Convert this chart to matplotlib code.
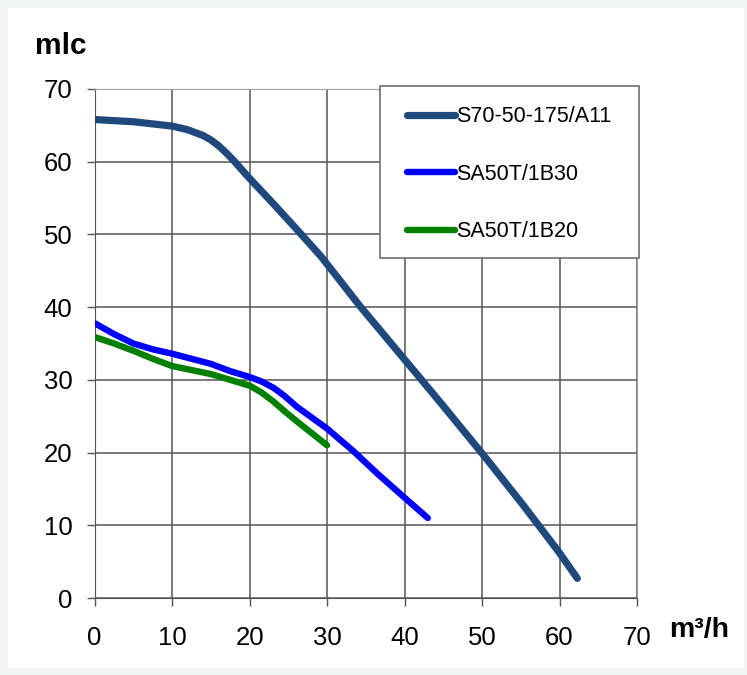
import matplotlib.pyplot as plt
from matplotlib.patches import Rectangle

plt.rcParams["font.family"] = ["Liberation Sans", "DejaVu Sans"]

# pump curves (flow m3/h, head mlc)
s70_q = [0, 5, 10, 12, 14, 15, 16, 17, 18, 20, 23, 26, 29.2, 32, 34.2, 40, 42.2, 45, 50, 55, 57.3, 60, 62.3]
s70_h = [65.8, 65.5, 64.9, 64.4, 63.6, 63.0, 62.2, 61.2, 60.1, 57.7, 54.3, 50.8, 47.0, 43.2, 40.2, 32.8, 30.0, 26.4, 19.9, 13.2, 10.0, 6.2, 2.7]

b30_q = [0, 2.5, 5, 7.5, 10, 15, 17.5, 20, 21.5, 23.1, 24.5, 26.1, 30, 33.4, 36.5, 40, 43]
b30_h = [37.8, 36.3, 35.0, 34.2, 33.6, 32.2, 31.2, 30.4, 29.8, 28.9, 27.8, 26.3, 23.3, 20.2, 17.1, 13.8, 11.0]

b20_q = [0, 2.5, 5, 7.5, 10, 15, 17.5, 20, 21.5, 23.1, 24.5, 26.1, 30]
b20_h = [35.9, 35.0, 34.0, 32.9, 31.9, 30.8, 30.0, 29.2, 28.3, 27.0, 25.7, 24.3, 21.0]

labels = ["S70-50-175/A11", "SA50T/1B30", "SA50T/1B20"]
colors = ["#1f497d", "#0000ff", "#008000"]
ticks = [0, 10, 20, 30, 40, 50, 60, 70]

fig = plt.figure(figsize=(7.47, 6.75), dpi=100, facecolor="#f3f5f5")
fig.patches.append(Rectangle((8 / 747, 7 / 675), 736 / 747, 660 / 675,
                             transform=fig.transFigure, facecolor="white",
                             edgecolor="none", zorder=-10))

ax = fig.add_axes([94.6 / 747, 1 - 598 / 675, 542.4 / 747, 509 / 675])
ax.set_facecolor("white")
ax.set_zorder(2)

series = [(s70_q, s70_h, 5.2), (b30_q, b30_h, 4.6), (b20_q, b20_h, 4.6)]
for (q, h, lw), lab, col in zip(series, labels, colors):
    ax.plot(q, h, color=col, lw=lw, label=lab, solid_capstyle="round",
            solid_joinstyle="round", zorder=3)

ax.set_xlim(0, 70)
ax.set_ylim(0, 70)
ax.set_xticks(ticks)
ax.set_yticks(ticks)
ax.grid(True, color="#555555", lw=1.1)
ax.tick_params(axis="both", labelsize=18.5, length=6, width=1, color="#555555")
ax.tick_params(axis="x", pad=14)
ax.tick_params(axis="y", pad=10)

for side in ["left", "bottom"]:
    ax.spines[side].set_color("#555555")
for side in ["top", "right"]:
    ax.spines[side].set_color("#a0a0a0")

# legend box drawn by hand, entries placed inside it
ax.add_patch(Rectangle((0.527, 0.6686), 0.4774, 0.3379, transform=ax.transAxes,
                       facecolor="white", edgecolor="#6e6e6e", lw=1.2,
                       clip_on=False, zorder=4))
leg = ax.legend(loc="center left", bbox_to_anchor=(0.5766, 0.8325), fontsize=15.5,
                frameon=False, handlelength=2.23, handletextpad=0.05,
                labelspacing=1.69, borderpad=0, borderaxespad=0)
leg.set_zorder(5)

fig.text(35 / 747, 1 - 54 / 675, "mlc", fontsize=21.5, fontweight="bold", va="baseline", zorder=3)
fig.text(669 / 747, 1 - 637 / 675, "m³/h", fontsize=20.5, fontweight="bold", va="baseline", zorder=3)

plt.savefig("out.png", dpi=100, facecolor=fig.get_facecolor())
plt.close()
